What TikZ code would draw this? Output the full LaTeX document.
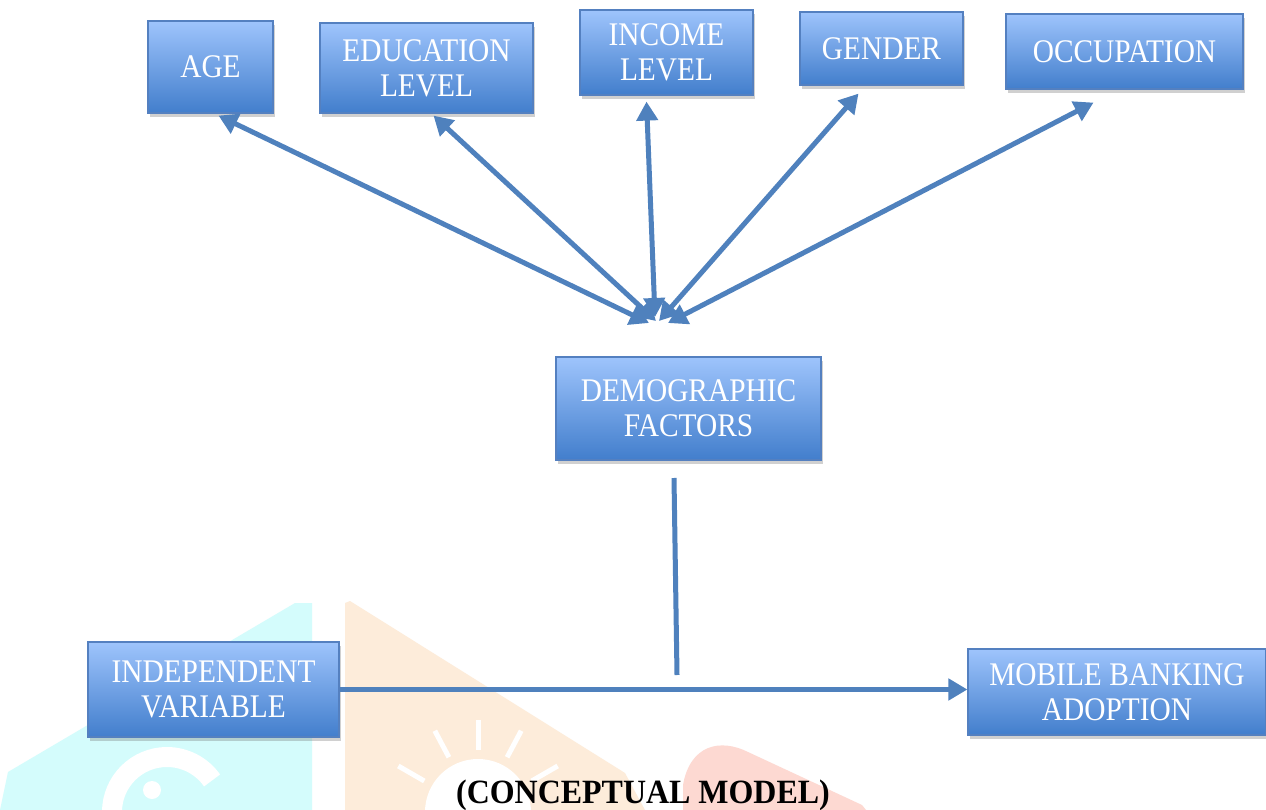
\documentclass[tikz,border=0pt]{standalone}
\usepackage{fontspec}
\setmainfont{Liberation Serif}
\newfontfamily\boxfont[FakeStretch=0.89]{Liberation Serif}
\newfontfamily\capfont[FakeStretch=0.94]{Liberation Serif}
\usetikzlibrary{arrows.meta,shadows,calc}
\definecolor{linecol}{RGB}{79,129,189}
\definecolor{boxtop}{RGB}{158,196,252}
\definecolor{boxbot}{RGB}{66,126,204}
\definecolor{boxedge}{RGB}{84,128,192}
\definecolor{wmcyan}{RGB}{212,252,252}
\definecolor{wmorange}{RGB}{253,236,218}
\definecolor{wmred}{RGB}{253,217,210}
\tikzset{
  bluebox/.style={rectangle, draw=boxedge, line width=1.2pt, top color=boxtop, bottom color=boxbot,
    text=white, align=center, inner sep=0pt,
    font=\boxfont\fontsize{33}{35}\selectfont,
    drop shadow={shadow xshift=2pt, shadow yshift=-4pt, opacity=0.3, fill=black!60}},
  conn/.style={draw=linecol, line width=5pt},
  biarrow/.style={conn, {Triangle[width=21pt,length=19pt]}-{Triangle[width=21pt,length=19pt]}},
  onearrow/.style={conn, -{Triangle[width=21pt,length=19pt]}},
}
\begin{document}
\begin{tikzpicture}[x=1pt,y=-1pt]
\useasboundingbox (0,0) rectangle (1266,810);
\fill[white] (0,0) rectangle (1266,810);
% watermark
\fill[wmcyan] (0,810) -- (8,772) -- (295,603) -- (312,603) -- (312,810) -- cycle;
\draw[white, line width=20pt] (112,812) arc[start angle=180, end angle=325, radius=55];
\fill[white] (152,790) circle[radius=9];
\fill[wmorange] (345,603) -- (350,601) -- (625,773) -- (645,810) -- (345,810) -- cycle;
\fill[white] (478,812) circle[radius=53];
\foreach \a in {90,62,118,30,150} {
  \draw[white, line width=5pt] ($(478,812)+(\a:-62)$) -- ($(478,812)+(\a:-92)$);
}
\fill[wmred] (683,810) -- (683,785) .. controls (690,745) and (720,738) .. (748,752) -- (862,805) -- (866,810) -- cycle;

% boxes
\node[bluebox, minimum width=125pt, minimum height=92pt] (age) at (210.5,67) {AGE};
\node[bluebox, minimum width=213pt, minimum height=90pt] (edu) at (426.5,68) {EDUCATION\\LEVEL};
\node[bluebox, minimum width=173pt, minimum height=85pt] (inc) at (666.5,52.5) {INCOME\\LEVEL};
\node[bluebox, minimum width=163pt, minimum height=73pt] (gen) at (881.5,48.5) {GENDER};
\node[bluebox, minimum width=237pt, minimum height=75pt] (occ) at (1124.5,51.5) {OCCUPATION};
\node[bluebox, minimum width=265pt, minimum height=103pt] (dem) at (688.5,408.5) {DEMOGRAPHIC\\FACTORS};
\node[bluebox, minimum width=251pt, minimum height=95pt] (ind) at (213.5,689.5) {INDEPENDENT\\VARIABLE};
\node[bluebox, minimum width=298pt, minimum height=86pt] (mba) at (1117,692) {MOBILE BANKING\\ADOPTION};

% convergence points
\coordinate (cage) at (649,323);
\coordinate (cedu) at (656,321);
\coordinate (cinc) at (655,317);
\coordinate (cgen) at (659,321);
\coordinate (cocc) at (668,323);
\coordinate (vtop) at (674,478);
\coordinate (vbot) at (677,675);

\draw[biarrow] ($(age.south)+(8,2)$) -- (cage);
\draw[biarrow] ($(edu.south)+(7,2)$) -- (cedu);
\draw[biarrow] ($(inc.south)+(-20,6)$) -- (cinc);
\draw[biarrow] ($(gen.south)+(-23,8)$) -- (cgen);
\draw[biarrow] ($(occ.south)+(-31,13)$) -- (cocc);
\draw[conn] (vtop) -- (vbot);
\draw[onearrow] (ind.east) -- (ind.east -| mba.west);

\node[font=\capfont\bfseries\fontsize{34}{36}\selectfont, anchor=base] (cap) at (643,803) {(CONCEPTUAL MODEL)};
\end{tikzpicture}
\end{document}
